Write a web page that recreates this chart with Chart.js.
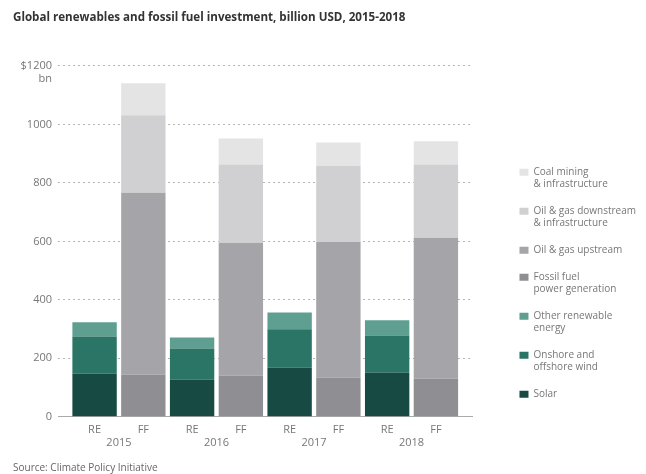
<!DOCTYPE html>
<html>
<head>
    <meta charset="UTF-8">
    <title>Global renewables and fossil fuel investment</title>
    <script src="https://cdn.jsdelivr.net/npm/chart.js@4/dist/chart.umd.min.js"></script>
    <style>
        body { margin: 0; background: #fff; }
        #wrap { width: 646px; height: 474px; }
    </style>
</head>
<body>
<div id="wrap"><canvas id="myChart"></canvas></div>
<script>
    // RE/FF bars alternate along the x axis: RE at 0,2,4,6 and FF at 1,3,5,7
    var years = ['2015', '2016', '2017', '2018'];
    var barLabels = ['RE', 'FF', 'RE', 'FF', 'RE', 'FF', 'RE', 'FF'];

    // renewables (billion USD)
    var solar = [148, 127, 168, 151];
    var wind = [127, 107, 131, 127];
    var otherRenewable = [48, 37, 58, 52];

    // fossil fuels (billion USD)
    var powerGen = [144, 141, 134, 131];
    var upstream = [622, 454, 464, 481];
    var downstream = [265, 268, 261, 251];
    var coal = [110, 89, 79, 79];

    var yTicks = [0, 200, 400, 600, 800, 1000, 1200];

    function points(values, offset) {
        return values.map((v, i) => ({ x: i * 2 + offset, y: v }));
    }

    function series(label, values, offset, color) {
        return {
            label: label,
            data: points(values, offset),
            backgroundColor: color,
            borderWidth: 0,
            stack: 'all'
        };
    }

    const data = {
        datasets: [
            series(['Solar'], solar, 0, '#174a42'),
            series(['Onshore and', 'offshore wind'], wind, 0, '#2a7565'),
            series(['Other renewable', 'energy'], otherRenewable, 0, '#5e9f92'),
            series(['Fossil fuel', 'power generation'], powerGen, 1, '#8f8f93'),
            series(['Oil & gas upstream'], upstream, 1, '#a5a5a9'),
            series(['Oil & gas downstream', '& infrastructure'], downstream, 1, '#d0d0d2'),
            series(['Coal mining', '& infrastructure'], coal, 1, '#e4e4e5')
        ]
    };

    const labelFont = { family: 'Open Sans', size: 11 };

    const config = {
        type: 'bar',
        data,
        options: {
            responsive: true,
            maintainAspectRatio: false,
            animation: false,
            barPercentage: 0.91,
            categoryPercentage: 1,
            layout: { padding: { left: 13, right: 0, top: 0, bottom: 0 } },
            plugins: {
                title: {
                    display: true,
                    text: 'Global renewables and fossil fuel investment, billion USD, 2015-2018',
                    align: 'start',
                    color: '#333',
                    font: { family: 'Open Sans', size: 11.6, weight: 'bold' },
                    padding: { top: 11, bottom: 41 }
                },
                subtitle: {
                    display: true,
                    position: 'bottom',
                    text: 'Source: Climate Policy Initiative',
                    align: 'start',
                    color: '#666',
                    font: { family: 'Open Sans', size: 10 },
                    padding: { top: 13, bottom: 0 }
                },
                legend: {
                    position: 'right',
                    reverse: true,
                    maxWidth: 160,
                    title: { display: true, text: ' ', padding: 40 },
                    labels: {
                        boxWidth: 9,
                        boxHeight: 7,
                        color: '#777',
                        font: { family: 'Open Sans', size: 10 },
                        padding: 15
                    }
                },
                tooltip: { enabled: false }
            },
            scales: {
                x: {
                    type: 'linear',
                    offset: false,
                    min: -0.75,
                    max: 7.75,
                    afterBuildTicks: axis => { axis.ticks = barLabels.map((l, i) => ({ value: i })); },
                    afterFit: axis => { axis.height = 19; },
                    ticks: {
                        callback: (v, i) => barLabels[i],
                        color: '#777',
                        font: labelFont,
                        padding: 6,
                        maxRotation: 0,
                        autoSkip: false
                    },
                    grid: { display: false, drawTicks: false, offset: false },
                    border: { display: true, color: '#aaa', width: 1 }
                },
                years: {
                    type: 'linear',
                    position: 'bottom',
                    offset: false,
                    min: -0.75,
                    max: 7.75,
                    afterBuildTicks: axis => { axis.ticks = years.map((y, i) => ({ value: i * 2 + 0.5 })); },
                    ticks: {
                        callback: (v, i) => years[i],
                        color: '#777',
                        font: labelFont,
                        padding: 0,
                        maxRotation: 0,
                        autoSkip: false
                    },
                    grid: { display: false, drawTicks: false, offset: false },
                    border: { display: false }
                },
                y: {
                    stacked: true,
                    min: 0,
                    max: 1200,
                    afterBuildTicks: axis => { axis.ticks = yTicks.map(v => ({ value: v })); },
                    afterFit: axis => { axis.width = 45; },
                    ticks: {
                        // blank first line keeps "$1200" level with its grid line
                        callback: v => v === 1200 ? ['', '$1200', 'bn'] : v,
                        color: '#777',
                        font: labelFont,
                        padding: 6
                    },
                    grid: {
                        color: ctx => ctx.tick && ctx.tick.value === 0 ? 'rgba(0,0,0,0)' : '#b5b5b5',
                        drawTicks: false,
                        lineWidth: 1
                    },
                    border: { display: false, dash: [2, 3] }
                },
                // empty axis: gap between the plot and the legend
                gap: {
                    type: 'linear',
                    position: 'right',
                    afterFit: axis => { axis.width = 32; },
                    ticks: { display: false },
                    grid: { display: false, drawTicks: false },
                    border: { display: false }
                }
            }
        }
    };

    var myChart = new Chart(document.getElementById('myChart'), config);
</script>
</body>
</html>
